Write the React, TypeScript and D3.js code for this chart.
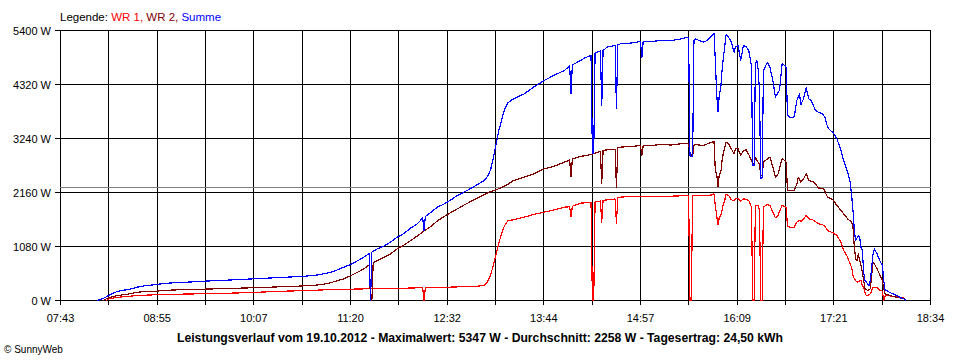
import React from "react";
import * as d3 from "d3";

type P = [string, number];

// WR 1 (red)
const wr1: P[] = [
  ["08:17", 0], ["08:20", 40], ["08:25", 60], ["08:30", 75], ["08:35", 85], ["08:40", 100], ["08:45", 105], ["08:50", 110], ["08:55", 118],
  ["09:00", 120], ["09:05", 122], ["09:10", 125], ["09:15", 128], ["09:20", 130], ["09:25", 133], ["09:30", 135], ["09:35", 138], ["09:40", 140],
  ["09:45", 143], ["09:50", 147], ["09:55", 150], ["10:00", 155], ["10:05", 160], ["10:10", 165], ["10:15", 170], ["10:20", 175], ["10:25", 180],
  ["10:30", 185], ["10:35", 190], ["10:40", 193], ["10:45", 197], ["10:50", 200], ["10:55", 207], ["11:00", 212], ["11:05", 215], ["11:10", 218],
  ["11:15", 222], ["11:20", 226], ["11:25", 229], ["11:30", 232], ["11:35", 235], ["11:40", 237], ["11:45", 238], ["11:50", 240], ["11:55", 243],
  ["12:00", 245], ["12:05", 250], ["12:10", 253], ["12:14", 254], ["12:15", 0], ["12:16", 255], ["12:20", 258], ["12:25", 262], ["12:30", 265],
  ["12:35", 268], ["12:40", 272], ["12:45", 275], ["12:50", 280], ["12:55", 287], ["13:00", 300], ["13:01", 320], ["13:03", 400], ["13:05", 520],
  ["13:07", 720], ["13:09", 930], ["13:11", 1150], ["13:13", 1333], ["13:15", 1480], ["13:16", 1533], ["13:18", 1600], ["13:22", 1613], ["13:30", 1667],
  ["13:37", 1720], ["13:45", 1767], ["13:52", 1810], ["14:00", 1867], ["14:04", 1875], ["14:05", 1667], ["14:06", 1885], ["14:12", 1947], ["14:16", 1955],
  ["14:20", 1960], ["14:21", 0], ["14:22", 0], ["14:23", 1975], ["14:27", 1990], ["14:28", 1567], ["14:29", 2000], ["14:32", 2013], ["14:38", 2030],
  ["14:39", 1547], ["14:40", 2050], ["14:42", 2067], ["14:50", 2080], ["14:57", 2087], ["15:05", 2080], ["15:12", 2087], ["15:20", 2087], ["15:27", 2093],
  ["15:33", 2100], ["15:34", 0], ["15:35", 0], ["15:36", 2100], ["15:44", 2100], ["15:50", 2110], ["15:52", 2133], ["15:53", 1900], ["15:54", 1700],
  ["15:55", 1513], ["15:56", 1667], ["15:57", 1700], ["15:58", 1800], ["15:59", 1933], ["16:00", 2000], ["16:01", 2120], ["16:03", 2100], ["16:05", 2013],
  ["16:07", 2000], ["16:08", 2033], ["16:10", 2033], ["16:12", 1987], ["16:14", 2033], ["16:16", 2020], ["16:18", 2000], ["16:20", 1867], ["16:21", 0],
  ["16:22", 0], ["16:23", 1900], ["16:25", 1900], ["16:26", 1800], ["16:27", 0], ["16:28", 0], ["16:29", 1867], ["16:32", 1920], ["16:34", 1893],
  ["16:36", 1767], ["16:38", 1653], ["16:40", 1700], ["16:41", 1780], ["16:43", 1900], ["16:45", 1880], ["16:46", 1853], ["16:47", 1480], ["16:49", 1467],
  ["16:52", 1467], ["16:54", 1567], ["16:56", 1600], ["16:57", 1580], ["16:59", 1633], ["17:01", 1700], ["17:03", 1633], ["17:05", 1620], ["17:07", 1600],
  ["17:10", 1533], ["17:13", 1520], ["17:15", 1480], ["17:17", 1400], ["17:21", 1353], ["17:24", 1300], ["17:27", 1167], ["17:29", 1000], ["17:32", 867],
  ["17:34", 720], ["17:35", 667], ["17:36", 500], ["17:37", 433], ["17:39", 367], ["17:41", 390], ["17:42", 400], ["17:43", 300], ["17:44", 267],
  ["17:45", 150], ["17:46", 100], ["17:47", 100], ["17:49", 133], ["17:50", 200], ["17:51", 267], ["17:52", 260], ["17:54", 253], ["17:56", 210],
  ["17:58", 187], ["17:59", 0], ["18:00", 90], ["18:01", 100], ["18:03", 95], ["18:07", 80], ["18:10", 70], ["18:14", 53], ["18:16", 0],
];

// WR 2 (dark red)
const wr2: P[] = [
  ["08:15", 0], ["08:17", 30], ["08:20", 65], ["08:25", 95], ["08:30", 115], ["08:35", 135], ["08:40", 165], ["08:45", 175], ["08:50", 182],
  ["08:55", 187], ["09:00", 200], ["09:05", 207], ["09:10", 212], ["09:15", 217], ["09:20", 220], ["09:25", 223], ["09:30", 227], ["09:35", 230],
  ["09:40", 235], ["09:45", 238], ["09:50", 240], ["09:55", 245], ["10:00", 250], ["10:05", 253], ["10:10", 258], ["10:15", 263], ["10:20", 267],
  ["10:25", 272], ["10:30", 277], ["10:35", 280], ["10:40", 285], ["10:45", 293], ["10:50", 300], ["10:55", 310], ["11:00", 325], ["11:05", 355],
  ["11:10", 395], ["11:15", 433], ["11:20", 495], ["11:25", 560], ["11:30", 633], ["11:34", 710], ["11:35", 0], ["11:36", 0], ["11:37", 760],
  ["11:40", 800], ["11:45", 860], ["11:50", 933], ["11:55", 1033], ["12:00", 1110], ["12:05", 1200], ["12:10", 1290], ["12:15", 1390], ["12:20", 1480],
  ["12:25", 1590], ["12:30", 1680], ["12:35", 1760], ["12:40", 1833], ["12:45", 1910], ["12:50", 1980], ["12:55", 2050], ["13:00", 2120], ["13:05", 2180],
  ["13:09", 2213], ["13:13", 2260], ["13:18", 2330], ["13:22", 2400], ["13:30", 2467], ["13:37", 2533], ["13:45", 2633], ["13:52", 2680], ["14:00", 2767],
  ["14:04", 2810], ["14:05", 2467], ["14:06", 2830], ["14:12", 2880], ["14:20", 2920], ["14:27", 2980], ["14:28", 2333], ["14:29", 3000], ["14:32", 3013],
  ["14:38", 3020], ["14:39", 2267], ["14:40", 3050], ["14:42", 3067], ["14:50", 3080], ["14:57", 3100], ["14:58", 2900], ["14:59", 3100], ["15:05", 3100],
  ["15:12", 3120], ["15:20", 3110], ["15:27", 3133], ["15:33", 3147], ["15:34", 2967], ["15:35", 2900], ["15:36", 2880], ["15:37", 3100], ["15:38", 3120],
  ["15:44", 3100], ["15:47", 3133], ["15:50", 3160], ["15:52", 3187], ["15:53", 2600], ["15:54", 2533], ["15:55", 2267], ["15:56", 2533], ["15:57", 2533],
  ["15:58", 2800], ["15:59", 2950], ["16:00", 3050], ["16:01", 3167], ["16:03", 3133], ["16:05", 3033], ["16:07", 2933], ["16:08", 3033], ["16:10", 3033],
  ["16:12", 2900], ["16:14", 3000], ["16:16", 3013], ["16:18", 2920], ["16:20", 2800], ["16:21", 2733], ["16:22", 2733], ["16:23", 2867], ["16:24", 2800],
  ["16:25", 2767], ["16:26", 2733], ["16:27", 2500], ["16:28", 2500], ["16:29", 2767], ["16:32", 2833], ["16:34", 2867], ["16:36", 2667], ["16:38", 2467],
  ["16:40", 2533], ["16:41", 2650], ["16:43", 2833], ["16:45", 2800], ["16:46", 2767], ["16:47", 2200], ["16:52", 2200], ["16:54", 2333], ["16:55", 2467],
  ["16:57", 2367], ["16:59", 2433], ["17:01", 2533], ["17:03", 2400], ["17:07", 2367], ["17:10", 2253], ["17:14", 2233], ["17:17", 2067], ["17:21", 2013],
  ["17:24", 1900], ["17:28", 1767], ["17:32", 1633], ["17:35", 1567], ["17:36", 1467], ["17:37", 1067], ["17:38", 833], ["17:39", 800], ["17:40", 933],
  ["17:41", 800], ["17:42", 700], ["17:43", 567], ["17:45", 233], ["17:47", 200], ["17:49", 233], ["17:50", 500], ["17:51", 767], ["17:52", 733],
  ["17:54", 633], ["17:56", 520], ["17:58", 400], ["17:59", 233], ["18:00", 133], ["18:04", 100], ["18:08", 67], ["18:11", 53], ["18:15", 27], ["18:16", 0],
];

// Summe (blue)
const summe: P[] = [
  ["08:10", 0], ["08:15", 40], ["08:17", 70], ["08:20", 115], ["08:25", 175], ["08:30", 205], ["08:35", 225], ["08:40", 265], ["08:45", 290],
  ["08:50", 305], ["08:55", 320], ["09:00", 340], ["09:05", 350], ["09:10", 357], ["09:15", 362], ["09:20", 370], ["09:25", 377], ["09:30", 386],
  ["09:35", 392], ["09:40", 398], ["09:45", 403], ["09:50", 410], ["09:55", 416], ["10:00", 424], ["10:05", 430], ["10:10", 437], ["10:15", 443],
  ["10:20", 450], ["10:25", 456], ["10:30", 463], ["10:35", 470], ["10:40", 477], ["10:45", 485], ["10:50", 495], ["10:55", 510], ["11:00", 533],
  ["11:05", 565], ["11:10", 610], ["11:15", 667], ["11:20", 720], ["11:25", 790], ["11:30", 867], ["11:34", 940], ["11:35", 0], ["11:36", 970],
  ["11:40", 1033], ["11:45", 1090], ["11:50", 1167], ["11:55", 1267], ["12:00", 1340], ["12:05", 1450], ["12:10", 1533], ["12:14", 1650], ["12:15", 1400],
  ["12:16", 1680], ["12:20", 1760], ["12:25", 1867], ["12:30", 1930], ["12:35", 2010], ["12:40", 2100], ["12:45", 2170], ["12:50", 2240], ["12:55", 2320],
  ["13:00", 2400], ["13:01", 2433], ["13:03", 2500], ["13:05", 2633], ["13:07", 2867], ["13:09", 3133], ["13:11", 3400], ["13:13", 3600], ["13:15", 3800],
  ["13:16", 3867], ["13:18", 3960], ["13:22", 4033], ["13:30", 4133], ["13:37", 4267], ["13:45", 4400], ["13:52", 4500], ["14:00", 4600], ["14:04", 4690],
  ["14:05", 4140], ["14:06", 4710], ["14:12", 4800], ["14:16", 4860], ["14:20", 4900], ["14:21", 2933], ["14:22", 2940], ["14:23", 4953], ["14:27", 4990],
  ["14:28", 3900], ["14:29", 5000], ["14:32", 5067], ["14:38", 5100], ["14:39", 3833], ["14:40", 5110], ["14:42", 5133], ["14:50", 5150], ["14:57", 5180],
  ["14:58", 4853], ["14:59", 5180], ["15:05", 5180], ["15:12", 5200], ["15:20", 5200], ["15:27", 5230], ["15:33", 5267], ["15:34", 2900], ["15:35", 2880],
  ["15:36", 2880], ["15:37", 5200], ["15:38", 5233], ["15:44", 5167], ["15:47", 5200], ["15:50", 5280], ["15:52", 5347], ["15:53", 4800], ["15:54", 4133],
  ["15:55", 3770], ["15:56", 4133], ["15:57", 4233], ["15:58", 4600], ["15:59", 4850], ["16:00", 5067], ["16:01", 5313], ["16:03", 5260], ["16:05", 5167],
  ["16:07", 4967], ["16:08", 5067], ["16:10", 5100], ["16:12", 4800], ["16:14", 5100], ["16:16", 5080], ["16:18", 5000], ["16:20", 4700], ["16:21", 2700],
  ["16:22", 2700], ["16:23", 4750], ["16:24", 4800], ["16:25", 4633], ["16:26", 4200], ["16:27", 2433], ["16:28", 2450], ["16:29", 4600], ["16:32", 4767],
  ["16:34", 4650], ["16:36", 4400], ["16:38", 4067], ["16:40", 4167], ["16:41", 4200], ["16:43", 4733], ["16:45", 4700], ["16:46", 4650], ["16:47", 3700],
  ["16:49", 3660], ["16:52", 3670], ["16:54", 4000], ["16:56", 4133], ["16:57", 3920], ["16:59", 4033], ["17:01", 4253], ["17:03", 4033], ["17:05", 3987],
  ["17:08", 3800], ["17:10", 3767], ["17:13", 3733], ["17:15", 3667], ["17:17", 3467], ["17:19", 3400], ["17:21", 3367], ["17:24", 3233], ["17:27", 3000],
  ["17:29", 2800], ["17:32", 2567], ["17:34", 2350], ["17:35", 2100], ["17:36", 1800], ["17:37", 1400], ["17:38", 1200], ["17:39", 1250], ["17:40", 1300],
  ["17:41", 1267], ["17:42", 1067], ["17:43", 1000], ["17:44", 567], ["17:45", 400], ["17:46", 367], ["17:48", 300], ["17:49", 400], ["17:50", 667],
  ["17:51", 933], ["17:52", 1033], ["17:54", 933], ["17:56", 800], ["17:58", 700], ["17:59", 400], ["18:00", 220], ["18:03", 167], ["18:07", 120],
  ["18:10", 80], ["18:14", 33], ["18:16", 0],
];

const yTickValues = [0, 1080, 2160, 3240, 4320, 5400];
const xTickLabels = ["07:43", "08:55", "10:07", "11:20", "12:32", "13:44", "14:57", "16:09", "17:21", "18:34"];
const timeStart = "07:43";
const timeEnd = "18:34";
const gridDivisions = 18;
const averageValue = 2258;
const legendPrefix = "Legende: ";
const seriesNames = ["WR 1", "WR 2", "Summe"];
const titleText =
  "Leistungsverlauf vom 19.10.2012 - Maximalwert: 5347 W - Durchschnitt: 2258 W - Tagesertrag: 24,50 kWh";
const copyrightText = "\u00A9 SunnyWeb";

const seriesColors = ["#ff0000", "#800000", "#0000ff"];
const FONT = "'Liberation Sans', Arial, sans-serif";

const toMin = (s: string) => Number(s.slice(0, 2)) * 60 + Number(s.slice(3, 5));

export default function App() {
  const width = 960;
  const height = 360;
  const left = 60, right = 930, top = 30, bottom = 300;

  const t0 = toMin(timeStart);
  const t1 = toMin(timeEnd);
  const x = d3.scaleLinear().domain([t0, t1]).range([left, right]);
  const y = d3.scaleLinear().domain([0, 5400]).range([bottom, top]);

  const px = (v: number) => Math.round(v) + 0.5;

  const gridTimes = d3.range(gridDivisions + 1).map((i) => t0 + (i * (t1 - t0)) / gridDivisions);

  const line = d3
    .line<P>()
    .x((d) => x(toMin(d[0])) + 0.5)
    .y((d) => y(d[1]) + 0.5)
    .curve(d3.curveLinear);

  const series = [wr1, wr2, summe];

  return (
    <svg
      width={width}
      height={height}
      viewBox={`0 0 ${width} ${height}`}
      style={{ position: "absolute", left: 0, top: 0, display: "block", background: "#fff" }}
      fontFamily={FONT}
    >
      <rect x={0} y={0} width={width} height={height} fill="#fff" />

      {/* legend */}
      <text x={60} y={21} fontSize={11.5}>
        <tspan fill="#000">{legendPrefix}</tspan>
        {seriesNames.map((n, i) => (
          <tspan key={n} fill={seriesColors[i]}>
            {n + (i < seriesNames.length - 1 ? ", " : "")}
          </tspan>
        ))}
      </text>

      {/* vertical grid + bottom ticks */}
      {gridTimes.map((t, i) => (
        <line
          key={"v" + i}
          x1={px(x(t))}
          x2={px(x(t))}
          y1={px(top)}
          y2={bottom + 5}
          stroke="#000"
          strokeWidth={1}
          shapeRendering="crispEdges"
        />
      ))}
      {/* horizontal grid + left ticks */}
      {yTickValues.map((v) => (
        <line
          key={"h" + v}
          x1={left - 5}
          x2={px(right) + 0.5}
          y1={px(y(v))}
          y2={px(y(v))}
          stroke="#000"
          strokeWidth={1}
          shapeRendering="crispEdges"
        />
      ))}

      {/* average line */}
      <line
        x1={left}
        x2={px(right)}
        y1={px(y(averageValue))}
        y2={px(y(averageValue))}
        stroke="#808080"
        strokeWidth={1}
        shapeRendering="crispEdges"
      />

      {/* y labels */}
      {yTickValues.map((v) => (
        <text key={"yl" + v} x={51} y={y(v) + 4.5} fontSize={11} textAnchor="end" fill="#000">
          {`${v} W`}
        </text>
      ))}

      {/* x labels */}
      {xTickLabels.map((lab, i) => (
        <text key={"xl" + i} x={x(gridTimes[i * 2]) + 0.5} y={321.5} fontSize={11} textAnchor="middle" fill="#000">
          {lab}
        </text>
      ))}

      {/* series */}
      {series.map((s, i) => (
        <path
          key={"s" + i}
          d={line(s) || ""}
          fill="none"
          stroke={seriesColors[i]}
          strokeWidth={1.2}
          shapeRendering="crispEdges"
          strokeLinejoin="round"
        />
      ))}

      {/* title */}
      <text
        x={480}
        y={341.5}
        fontSize={13}
        fontWeight="bold"
        textAnchor="middle"
        fill="#000"
        textLength={606}
        lengthAdjust="spacingAndGlyphs"
      >
        {titleText}
      </text>

      {/* copyright */}
      <text x={4} y={352.5} fontSize={10} fill="#000">
        {copyrightText}
      </text>
    </svg>
  );
}
